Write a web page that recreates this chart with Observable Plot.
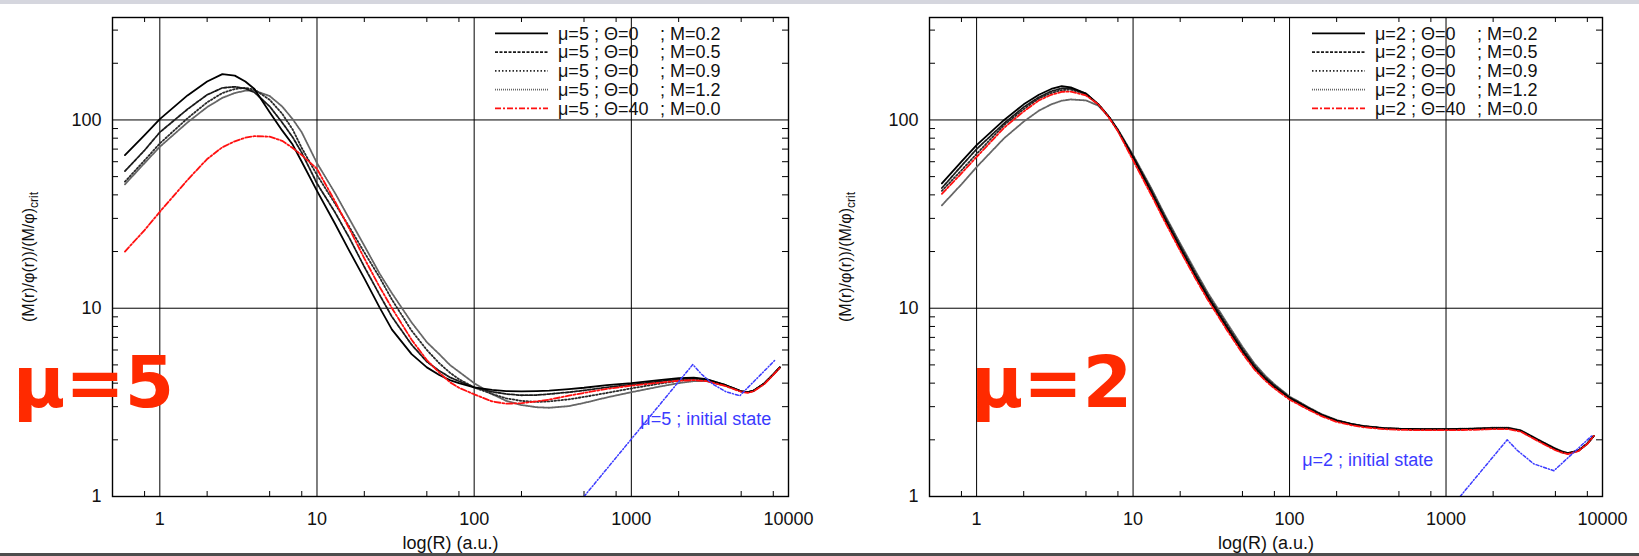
<!DOCTYPE html>
<html><head><meta charset="utf-8">
<script src="https://cdn.jsdelivr.net/npm/d3@7"></script>
<script src="https://cdn.jsdelivr.net/npm/@observablehq/plot@0.6"></script>
<style>
html,body{margin:0;padding:0;background:#fff;}
#page{position:relative;width:1639px;height:556px;overflow:hidden;background:#fff;font-family:"Liberation Sans",Arial,sans-serif;}
.panel{position:absolute;top:0;}
#topband{position:absolute;left:0;top:0;width:1639px;height:4px;background:#d5d6de;}
#botband{position:absolute;left:0;top:553px;width:1639px;height:3px;background:#4d4d4d;}
</style></head><body>
<div id="page">
<div id="p1" class="panel" style="left:0"></div>
<div id="p2" class="panel" style="left:820px"></div>
<div id="topband"></div><div id="botband"></div>
</div>
<script>
// ---------- data ----------
const rGrid = [0.6,0.8,1,1.5,2,2.5,3,3.5,4,5,6,7,8,10,13,16,20,25,30,40,50,60,70,80,100,130,160,200,250,300,400,500,700,1000,1500,2000,2500,3000,4000,5000,5500,6000,7000,8000,8800];

// mu = 5 panel
const mu5_M02 = [65,83,101,135,160,175,172,160,146,110,88,74,60,42,28.2,20.3,14.4,10.1,7.7,5.7,4.85,4.42,4.15,4.0,3.8,3.68,3.63,3.62,3.63,3.65,3.72,3.78,3.9,4.0,4.15,4.25,4.28,4.2,3.9,3.62,3.58,3.65,3.98,4.45,4.85];
const mu5_M05 = [53.5,69,86,114,136,148,150,147,140,118,97,81,67,46,32.4,23.8,16.6,11.8,9.0,6.4,5.2,4.65,4.3,4.1,3.8,3.6,3.5,3.45,3.46,3.5,3.58,3.66,3.8,3.93,4.08,4.2,4.25,4.18,3.9,3.62,3.58,3.65,3.98,4.45,4.85];
const mu5_M09 = [47,61,75,102,124,139,146,148,145,128,108,89,71,51,36,27.2,19.8,14.6,11.1,7.6,6.0,5.1,4.55,4.2,3.8,3.5,3.32,3.22,3.18,3.2,3.28,3.38,3.55,3.75,3.97,4.12,4.2,4.15,3.88,3.62,3.58,3.65,3.98,4.45,4.85];
const mu5_M12 = [45.5,59,72,97,117,131,139,143,143,134,118,101,86,59,41,30,21.5,15.3,12,8.4,6.6,5.7,5.0,4.6,4.0,3.5,3.22,3.06,2.98,2.96,3.02,3.14,3.36,3.58,3.83,4.0,4.1,4.1,3.87,3.62,3.58,3.65,3.98,4.45,4.85];
const mu5_T40 = [20,26,32.5,48,62,71.6,77,80.5,82,81.5,77.5,71,65,55,37,26.6,18.4,13.0,10,6.8,5.3,4.55,4.05,3.78,3.49,3.2,3.11,3.13,3.2,3.27,3.43,3.55,3.73,3.88,4.02,4.12,4.15,4.1,3.85,3.6,3.55,3.62,3.95,4.42,4.82];
const mu5_initR = [500,2460,2800,3300,4000,4900,8300];
const mu5_initV = [1.0,5.02,4.46,3.95,3.6,3.43,5.35];

// mu = 2 panel
const mu2_M02 = [46,60,73.5,100,121,136,146,151,149,138,121,104,88,63,41.5,29.5,20.8,14.8,11.4,7.8,5.9,4.8,4.2,3.82,3.33,2.96,2.71,2.53,2.42,2.36,2.31,2.29,2.28,2.28,2.29,2.31,2.31,2.24,1.97,1.79,1.73,1.7,1.75,1.91,2.1];
const mu2_M05 = [43.5,57,70,96,117,132,142,147,147,138,121,104,88,64,42.2,30,21.2,15.1,11.6,7.95,6.0,4.88,4.25,3.86,3.35,2.97,2.72,2.53,2.42,2.36,2.3,2.28,2.27,2.27,2.28,2.3,2.3,2.23,1.96,1.78,1.72,1.69,1.75,1.91,2.1];
const mu2_M09 = [42,54,66,94,114,130,139,144,145,137,121,104,88.5,64.5,43,30.6,21.6,15.4,11.8,8.1,6.1,4.95,4.3,3.9,3.37,2.98,2.72,2.53,2.42,2.36,2.3,2.28,2.27,2.27,2.28,2.3,2.3,2.23,1.96,1.78,1.72,1.69,1.75,1.91,2.1];
const mu2_M12 = [35.2,45.5,56.2,80,98,112,121,126.5,128.5,127,119,104,89,65,43.8,31.2,22.1,15.8,12.1,8.3,6.25,5.05,4.38,3.95,3.4,3.0,2.74,2.55,2.43,2.37,2.31,2.29,2.28,2.28,2.3,2.32,2.32,2.25,1.98,1.8,1.74,1.7,1.75,1.91,2.1];
const mu2_T40 = [40.5,52,63.6,91,111,127,136,141,141.5,135,121,103,87,61,40.3,28.7,20.2,14.4,11.1,7.6,5.75,4.7,4.12,3.75,3.27,2.91,2.67,2.49,2.39,2.33,2.28,2.26,2.25,2.25,2.26,2.28,2.28,2.21,1.94,1.76,1.71,1.68,1.74,1.9,2.1];
const mu2_initR = [1230,2460,2850,3640,4890,8590];
const mu2_initV = [1.0,2.0,1.76,1.49,1.37,2.11];

// axes / labels
const xTicks = [1,10,100,1000,10000];
const xGridVals = [1,10,100,1000];
const xMinor = [0.8,2,5,8,20,50,80,200,500,800,2000,5000,8000];
const yTicks = [1,10,100];
const yGridVals = [10,100];
const yMinor = [2,3,4,5,6,7,8,9,20,30,40,50,60,70,80,90,200,300];
const xTitle = "log(R) (a.u.)";
const yTitleMain = "(M(r)/\u03c6(r))/(M/\u03c6)";
const yTitleSub = "crit";
const mu5Legend = ["\u03bc=5 ; \u0398=0", "\u03bc=5 ; \u0398=0", "\u03bc=5 ; \u0398=0", "\u03bc=5 ; \u0398=0", "\u03bc=5 ; \u0398=40"];
const mu2Legend = ["\u03bc=2 ; \u0398=0", "\u03bc=2 ; \u0398=0", "\u03bc=2 ; \u0398=0", "\u03bc=2 ; \u0398=0", "\u03bc=2 ; \u0398=40"];
const mLegend = ["; M=0.2", "; M=0.5", "; M=0.9", "; M=1.2", "; M=0.0"];
const mu5Big = "\u03bc=5", mu2Big = "\u03bc=2";
const mu5InitLabel = "\u03bc=5 ; initial state", mu2InitLabel = "\u03bc=2 ; initial state";

// styles per legend row: M=0.2, 0.5, 0.9, 1.2, Theta=40
const styles = [
  {stroke:"#000", dash:null, w:1.8},
  {stroke:"#1a1a1a", dash:"3,1.5", w:1.8},
  {stroke:"#2a2a2a", dash:"1.5,2", w:1.8},
  {stroke:"#666", dash:"1,1", w:1.8},
  {stroke:"#ff1010", dash:"6,2,2,2", w:1.8}
];
const blue = "#3b3bff";
const FONT = "'Liberation Sans', Arial, sans-serif";

function makePanel(o) {
  const H = 556, mt = 17, mb = 60;
  const frameW = o.width - o.ml - o.mr, frameH = H - mt - mb;
  const order = [3,2,1,0,4];
  const lineMarks = order.map(k => Plot.line(
    rGrid.map((r,i) => ({r, v: o.series[k][i]})),
    {x:"r", y:"v", stroke: styles[k].stroke, strokeWidth: styles[k].w, strokeDasharray: styles[k].dash, clip:true}));
  const svg = Plot.plot({
    width: o.width, height: H, marginLeft: o.ml, marginRight: o.mr, marginTop: mt, marginBottom: mb,
    style: {background:"transparent", fontFamily: FONT, fontSize:"18px", color:"#111", overflow:"visible"},
    x: {type:"log", domain:[0.5,10000]},
    y: {type:"log", domain:[1,350]},
    marks: [
      Plot.ruleX(xGridVals, {stroke:"#000", strokeWidth:1}),
      Plot.ruleY(yGridVals, {stroke:"#000", strokeWidth:1}),
      Plot.ruleX(xMinor, {stroke:"#000", insetTop: frameH-5}),
      Plot.ruleX(xMinor, {stroke:"#000", insetBottom: frameH-5}),
      Plot.ruleY(yMinor, {stroke:"#000", insetRight: frameW-6}),
      Plot.ruleY(yMinor, {stroke:"#000", insetLeft: frameW-6}),
      ...lineMarks,
      Plot.line(o.initR.map((r,i)=>({r, v:o.initV[i]})), {x:"r", y:"v", stroke:blue, strokeWidth:1.5, strokeDasharray:"3,2,1,2", clip:true}),
      Plot.text([o.initText], {x:"x", y:"y", text:"t", fill:blue, fontSize:18, textAnchor:"start", lineAnchor:"middle"}),
      Plot.axisX({ticks:xTicks, tickFormat:d=>String(d), tickSize:0, tickPadding:16, fontSize:18, label:null}),
      Plot.axisY({ticks:yTicks, tickFormat:d=>String(d), tickSize:0, tickPadding:11, fontSize:18, label:null}),
      Plot.text([xTitle], {frameAnchor:"bottom", dy:47, fontSize:18, lineAnchor:"middle"}),
      Plot.frame({stroke:"#000", strokeWidth:1.4})
    ]
  });
  const s = d3.select(svg);
  // y title with subscript
  const t = s.append("text").attr("transform", `translate(${o.titleX},257) rotate(-90)`)
    .attr("text-anchor","middle").attr("font-size",16).attr("fill","#111").attr("font-family",FONT);
  t.append("tspan").text(yTitleMain);
  t.append("tspan").attr("font-size",12).attr("dy",4).text(yTitleSub);
  // legend
  const g = s.append("g").attr("font-family",FONT).attr("font-size",18).attr("fill","#111").attr("text-anchor","start");
  o.legA.forEach((lab,i) => {
    const y = 33.3 + i*18.75;
    g.append("line").attr("x1",o.lx).attr("x2",o.lx+53).attr("y1",y).attr("y2",y)
      .attr("stroke",styles[i].stroke).attr("stroke-width",styles[i].w).attr("stroke-dasharray",styles[i].dash);
    g.append("text").attr("x",o.lx+63).attr("y",y).attr("dy","0.35em").text(lab);
    g.append("text").attr("x",o.lx+165).attr("y",y).attr("dy","0.35em").text(mLegend[i]);
  });
  // big red label
  s.append("text").attr("x",o.bigX).attr("y",407).attr("text-anchor","start").attr("font-family","'DejaVu Sans', sans-serif")
    .attr("font-weight","bold").attr("font-size",71).attr("fill","#ff2a00").text(o.big);
  return svg;
}

document.getElementById("p1").appendChild(makePanel({
  width:820, ml:112, mr:32,
  series:[mu5_M02, mu5_M05, mu5_M09, mu5_M12, mu5_T40],
  initR:mu5_initR, initV:mu5_initV,
  initText:{x:1140, y:2.57, t:mu5InitLabel},
  legA:mu5Legend, lx:495, big:mu5Big, bigX:13, titleX:34
}));
document.getElementById("p2").appendChild(makePanel({
  width:819, ml:109, mr:37,
  series:[mu2_M02, mu2_M05, mu2_M09, mu2_M12, mu2_T40],
  initR:mu2_initR, initV:mu2_initV,
  initText:{x:120.5, y:1.56, t:mu2InitLabel},
  legA:mu2Legend, lx:492, big:mu2Big, bigX:151, titleX:31
}));
</script>
</body></html>
